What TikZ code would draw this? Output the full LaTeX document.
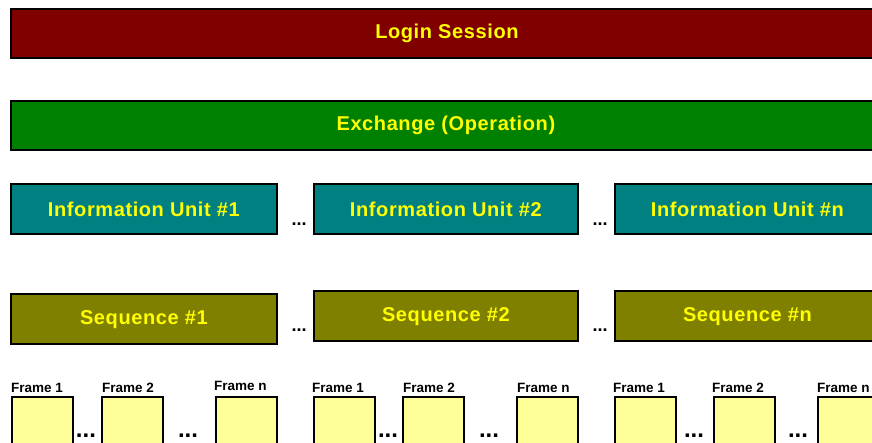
\documentclass[tikz,border=0pt]{standalone}
\usepackage{fontspec}
\setmainfont{Liberation Sans}
\newfontfamily\barfont{Liberation Sans}[LetterSpace=3]
\definecolor{loginred}{HTML}{800000}
\definecolor{exgreen}{HTML}{008000}
\definecolor{iuteal}{HTML}{008080}
\definecolor{seqolive}{HTML}{808000}
\definecolor{framey}{HTML}{FFFF99}
\definecolor{txtyellow}{HTML}{FFFF00}
\tikzset{
  bar/.style={draw=black, line width=1.8pt, inner sep=0pt, text=txtyellow,
    font=\barfont\bfseries\fontsize{20}{24}\selectfont, anchor=north west},
  framebox/.style={draw=black, line width=1.8pt, fill=framey, inner sep=0pt,
    minimum width=61pt, minimum height=64pt, anchor=north west},
  framelbl/.style={font=\bfseries\fontsize{13.5}{16}\selectfont, anchor=base west, inner sep=0pt},
  smalldots/.style={font=\bfseries\fontsize{18}{20}\selectfont, inner sep=0pt, anchor=base},
  bigdots/.style={font=\bfseries\fontsize{24}{26}\selectfont, inner sep=0pt, anchor=base}
}
\begin{document}
\begin{tikzpicture}[x=1pt,y=-1pt]
\path[use as bounding box] (0,0) rectangle (872,443);
\clip (0,0) rectangle (872,443);
% top bars
\node[bar, fill=loginred, minimum width=872pt, minimum height=49pt] (login) at (10,8) {Login Session};
\node[bar, fill=exgreen, minimum width=870pt, minimum height=49pt] (exch) at (10,100) {Exchange (Operation)};
% information units
\node[bar, fill=iuteal, minimum width=266pt, minimum height=50pt] (iu1) at (10,183) {Information Unit \#1};
\node[bar, fill=iuteal, minimum width=264pt, minimum height=50pt] (iu2) at (313,183) {Information Unit \#2};
\node[bar, fill=iuteal, minimum width=265pt, minimum height=50pt] (iun) at (614,183) {Information Unit \#n};
\node[smalldots] (d1) at (299,226) {...};
\node[smalldots] (d2) at (600,226) {...};
% sequences
\node[bar, fill=seqolive, minimum width=266pt, minimum height=50pt, text depth=2pt] (seq1) at (10,293) {Sequence \#1};
\node[bar, fill=seqolive, minimum width=264pt, minimum height=50pt, text depth=2pt] (seq2) at (313,290) {Sequence \#2};
\node[bar, fill=seqolive, minimum width=265pt, minimum height=50pt, text depth=2pt] (seqn) at (614,290) {Sequence \#n};
\node[smalldots] (d3) at (299,331) {...};
\node[smalldots] (d4) at (600,331) {...};
% frames group 1
\node[framebox] (f11) at (11,396) {};
\node[framebox] (f12) at (101,396) {};
\node[framebox] (f1n) at (215,396) {};
\node[framelbl] (l11) at (11,392) {Frame 1};
\node[framelbl] (l12) at (102,392) {Frame 2};
\node[framelbl] (l1n) at (214,390) {Frame n};
\node[bigdots] (e11) at (86,437) {...};
\node[bigdots] (e12) at (188,437) {...};
% frames group 2
\node[framebox] (f21) at (313,396) {};
\node[framebox] (f22) at (402,396) {};
\node[framebox] (f2n) at (516,396) {};
\node[framelbl] (l21) at (312,392) {Frame 1};
\node[framelbl] (l22) at (403,392) {Frame 2};
\node[framelbl] (l2n) at (517,392) {Frame n};
\node[bigdots] (e21) at (388,437) {...};
\node[bigdots] (e22) at (489,437) {...};
% frames group 3
\node[framebox] (f31) at (614,396) {};
\node[framebox] (f32) at (713,396) {};
\node[framebox] (f3n) at (817,396) {};
\node[framelbl] (l31) at (613,392) {Frame 1};
\node[framelbl] (l32) at (712,392) {Frame 2};
\node[framelbl] (l3n) at (817,392) {Frame n};
\node[bigdots] (e31) at (694,437) {...};
\node[bigdots] (e32) at (798,437) {...};
\end{tikzpicture}
\end{document}
